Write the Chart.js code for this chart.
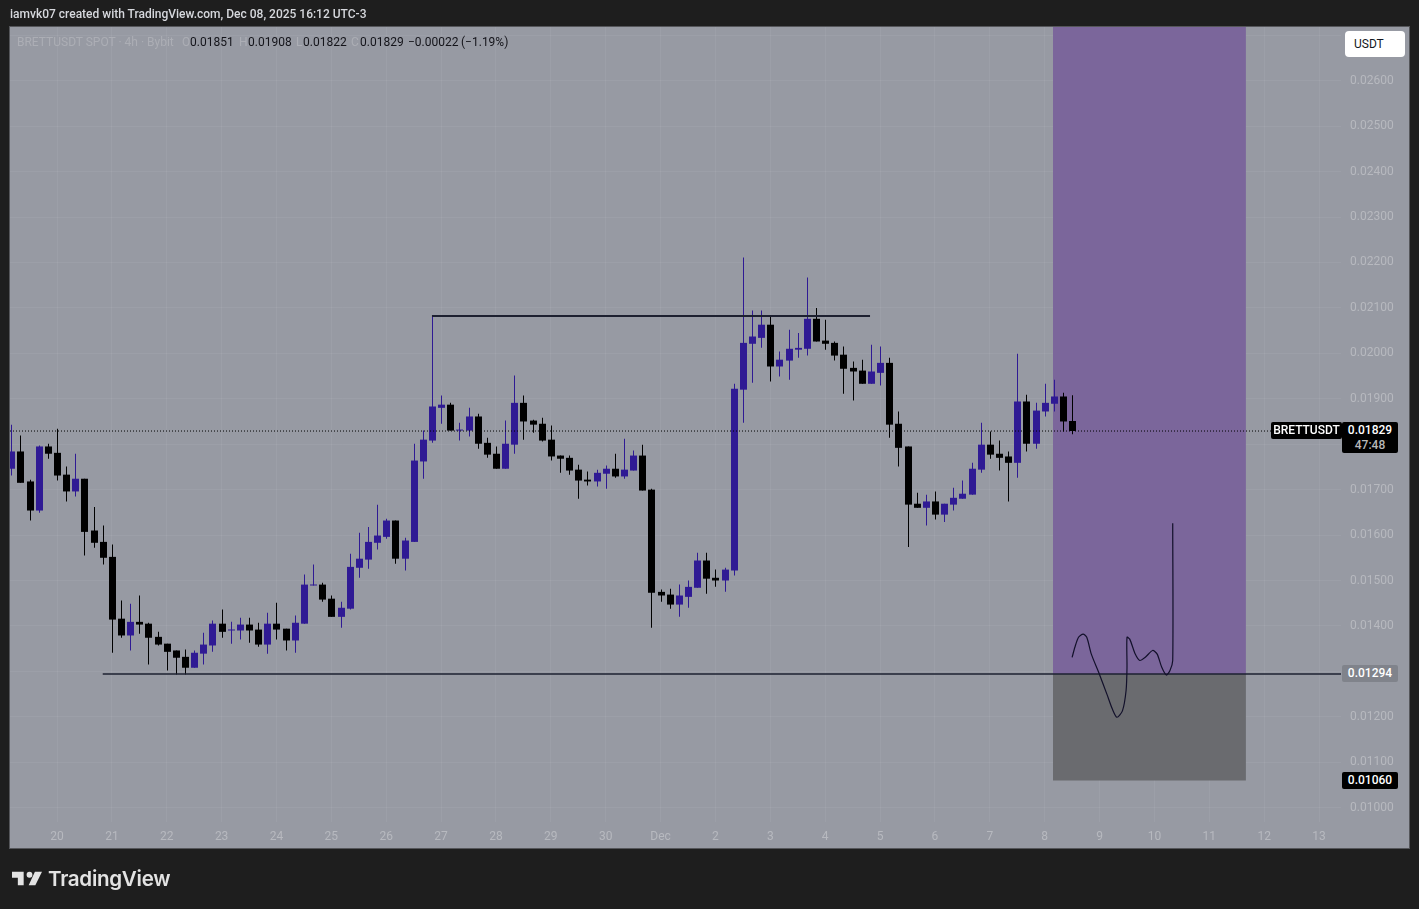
<!DOCTYPE html>
<html>
<head>
<meta charset="utf-8">
<style>
html,body{margin:0;padding:0;width:1419px;height:909px;overflow:hidden;background:#1e1e1e;}
#pane{position:absolute;left:9px;top:26px;width:1401px;height:823px;box-sizing:border-box;background:#979aa3;border:1px solid #55565a;}
canvas{position:absolute;left:0;top:0;}
.t{position:absolute;white-space:nowrap;font-family:Roboto,"Liberation Sans",sans-serif;font-size:12px;line-height:14px;}
.badge{position:absolute;box-sizing:border-box;border-radius:2px;color:#fff;font-family:Roboto,"Liberation Sans",sans-serif;font-size:12px;font-weight:500;text-align:center;line-height:17px;}
#logo{position:absolute;left:12px;top:870px;}
#brand{position:absolute;left:48px;top:866px;font-family:Inter,Roboto,sans-serif;font-size:20.6px;line-height:26px;font-weight:600;color:#e3e3e3;letter-spacing:-0.3px;}
</style>
</head>
<body>
<div id="pane"></div>
<canvas id="c" width="1419" height="909"></canvas>
<div class="t" style="left:10px;top:7px;color:#d6d8dd;font-size:12px;font-weight:500">iamvk07 created with TradingView.com, Dec 08, 2025 16:12 UTC-3</div>
<div class="t" style="left:17px;top:35px;color:#acaeb5">BRETTUSDT SPOT · 4h · Bybit</div>
<div class="t" style="left:182px;top:35px;color:#acaeb5">O</div><div class="t" style="left:190px;top:35px;color:#14141a">0.01851</div>
<div class="t" style="left:239px;top:35px;color:#acaeb5">H</div><div class="t" style="left:248px;top:35px;color:#14141a">0.01908</div>
<div class="t" style="left:296px;top:35px;color:#acaeb5">L</div><div class="t" style="left:303px;top:35px;color:#14141a">0.01822</div>
<div class="t" style="left:351px;top:35px;color:#acaeb5">C</div><div class="t" style="left:360px;top:35px;color:#14141a">0.01829</div>
<div class="t" style="left:408px;top:35px;color:#14141a">−0.00022</div>
<div class="t" style="left:461px;top:35px;color:#14141a">(−1.19%)</div>
<div class="badge" style="left:1345px;top:31px;width:60px;height:26px;background:#fff;color:#131722;font-weight:400;border-radius:4px;line-height:26px;text-align:left;padding-left:9px;">USDT</div>
<div class="badge" style="left:1271px;top:422px;width:71px;height:17px;background:#000;">BRETTUSDT</div>
<div class="badge" style="left:1342px;top:422px;width:56px;height:31px;background:#000;line-height:15px;padding-top:1px;">0.01829<br><span style="color:#b8b8b8;font-weight:500">47:48</span></div>
<div class="badge" style="left:1342px;top:665px;width:56px;height:17px;background:#80838b;">0.01294</div>
<div class="badge" style="left:1342px;top:772px;width:56px;height:17px;background:#000;">0.01060</div>
<svg id="logo" width="30" height="17" viewBox="0 6 36 16"><path fill="#e3e3e3" d="M14 6H0v7h7v9h7V6Zm14 16h-8l7.5-16H36l-8 16Zm-7-9a3.5 3.5 0 1 0 0-7 3.5 3.5 0 0 0 0 7Z"/></svg>
<div id="brand">TradingView</div>
<script src="https://cdn.jsdelivr.net/npm/chart.js@4/dist/chart.umd.min.js"></script>
<script>
const opens=[.01746,.01784,.01718,.01654,.01795,.01781,.01733,.01696,.01724,.01610,.01585,.01552,.01416,.01379,.01409,.01405,.01376,.01361,.01346,.01332,.01308,.01339,.01357,.01405,.01390,.01390,.01403,.01392,.01359,.01405,.01394,.01368,.01405,.01489,.01491,.01460,.01420,.01438,.01528,.01546,.01583,.01596,.01632,.01548,.01585,.01762,.01808,.01880,.01887,.01830,.01830,.01861,.01803,.01779,.01746,.01799,.01891,.01852,.01845,.01810,.01775,.01770,.01744,.01722,.01718,.01735,.01746,.01729,.01742,.01775,.01700,.01475,.01469,.01447,.01464,.01484,.01544,.01506,.01500,.01522,.01920,.02021,.02034,.02063,.01971,.01984,.02008,.02010,.02076,.02028,.02023,.01997,.01968,.01962,.01933,.01957,.01979,.01845,.01795,.01669,.01660,.01674,.01645,.01667,.01680,.01689,.01744,.01799,.01779,.01773,.01759,.01894,.01801,.01872,.01889,.01905,.01851];
const highs=[.01843,.01819,.01722,.01797,.01801,.01834,.01751,.01779,.01724,.01662,.01621,.01579,.01456,.01449,.01467,.01407,.01387,.01361,.01346,.01348,.01346,.01385,.01412,.01436,.01409,.01418,.01418,.01407,.01429,.01451,.01394,.01423,.01513,.01535,.01495,.01467,.01453,.01559,.01605,.01618,.01667,.01636,.01632,.01594,.01801,.01830,.02083,.01907,.01891,.01847,.01880,.01867,.01814,.01795,.01852,.01951,.01907,.01854,.01858,.01841,.01775,.01775,.01755,.01740,.01744,.01753,.01779,.01812,.01786,.01799,.01702,.01480,.01482,.01491,.01500,.01561,.01561,.01524,.01528,.01933,.02211,.02094,.02094,.02081,.02004,.02052,.02045,.02167,.02100,.02074,.02026,.02015,.01982,.01986,.02019,.02015,.01990,.01872,.01795,.01693,.01689,.01696,.01669,.01704,.01720,.01759,.01847,.01828,.01808,.01784,.01999,.01909,.01891,.01933,.01942,.01913,.01908];
const lows=[.01731,.01715,.01632,.01649,.01768,.01720,.01674,.01685,.01555,.01572,.01535,.01341,.01374,.01346,.01383,.01315,.01357,.01302,.01293,.01293,.01308,.01315,.01343,.01374,.01361,.01370,.01363,.01354,.01339,.01370,.01346,.01341,.01405,.01489,.01453,.01420,.01396,.01436,.01506,.01526,.01568,.01592,.01537,.01522,.01585,.01724,.01803,.01845,.01830,.01808,.01817,.01790,.01770,.01746,.01746,.01779,.01810,.01825,.01806,.01764,.01737,.01733,.01680,.01709,.01707,.01702,.01726,.01724,.01742,.01698,.01396,.01453,.01438,.01420,.01440,.01484,.01471,.01486,.01475,.01511,.01847,.01935,.02012,.01938,.01949,.01942,.01990,.01995,.02026,.02008,.01984,.01911,.01896,.01933,.01933,.01929,.01814,.01751,.01574,.01660,.01621,.01634,.01629,.01654,.01680,.01689,.01737,.01768,.01742,.01674,.01726,.01784,.01790,.01861,.01872,.01828,.01822];
const closes=[.01784,.01715,.01654,.01795,.01779,.01731,.01696,.01724,.01607,.01583,.01550,.01414,.01379,.01409,.01403,.01374,.01359,.01343,.01330,.01308,.01341,.01359,.01405,.01387,.01392,.01403,.01390,.01359,.01405,.01392,.01368,.01407,.01491,.01491,.01458,.01420,.01440,.01530,.01548,.01585,.01599,.01632,.01548,.01588,.01764,.01810,.01883,.01887,.01830,.01832,.01861,.01801,.01777,.01746,.01801,.01891,.01850,.01843,.01808,.01773,.01768,.01742,.01720,.01718,.01737,.01746,.01729,.01744,.01775,.01698,.01473,.01467,.01447,.01467,.01486,.01544,.01504,.01500,.01524,.01922,.02023,.02037,.02063,.01971,.01986,.02010,.02012,.02076,.02026,.02021,.01995,.01966,.01960,.01933,.01960,.01979,.01843,.01792,.01667,.01660,.01674,.01645,.01669,.01682,.01691,.01746,.01799,.01777,.01770,.01759,.01894,.01801,.01874,.01891,.01905,.01850,.01829];
const dayLabels=["20","21","22","23","24","25","26","27","28","29","30","Dec","2","3","4","5","6","7","8","9","10","11","12","13"];
const candlesPerDay=6, firstDayIndex=5;
const supportLevel=0.01294, resistanceLevel=0.02082, stopLevel=0.0106, lastClose=0.01829, zoneTop=0.0273, topTickLabel=0.0265;
const zoneFrom=113.9, zoneTo=135, supportFrom=10, resistanceFrom=46, resistanceTo=93.9;
const sketchX=[116,116.3,116.7,117.2,117.6,118.1,118.9,119.8,120.4,120.9,121.5,121.9,122,122,122.3,122.9,123.4,124,124.8,125.3,125.8,126.3,126.7,127,127];
const sketchY=[.01331,.01353,.01375,.01382,.01375,.01338,.01298,.0125,.01217,.01199,.01213,.01258,.01309,.01375,.01371,.01338,.01324,.01331,.01346,.01338,.01309,.01292,.01302,.01324,.01626];

const UP='#2f1a94', DOWN='#000000', LINE='#1d2030';
const xMin=-0.14, xMax=145.4, yMin=0.009685, yMax=0.027182;
const idx=opens.map((_,i)=>i);
const wickData=idx.map(i=>({x:i,y:[lows[i],highs[i]]}));
const bodyData=idx.map(i=>({x:i,y:[Math.min(opens[i],closes[i]),Math.max(opens[i],closes[i])]}));
const colors=idx.map(i=>closes[i]>=opens[i]?UP:DOWN);
const hline=(a,b,v)=>[{x:a,y:v},{x:b,y:v}];
const lineBase={type:'line',pointRadius:0,borderJoinStyle:'round'};

const snapBars={id:'snapBars',afterDatasetsUpdate(chart){
  chart.data.datasets.forEach((d,n)=>{
    if(d.type==='line')return;
    chart.getDatasetMeta(n).data.forEach(el=>{el.x=Math.round(el.x)+0.5;});
  });
}};

new Chart(document.getElementById('c'),{
  type:'bar',
  plugins:[snapBars],
  data:{datasets:[
    {...lineBase,label:'target zone',data:hline(zoneFrom,zoneTo,zoneTop),borderWidth:0,backgroundColor:'#7b669b',fill:{value:supportLevel},order:20},
    {...lineBase,label:'stop zone',data:hline(zoneFrom,zoneTo,stopLevel),borderWidth:0,backgroundColor:'#6a6b6f',fill:{value:supportLevel},order:19},
    {label:'wicks',data:wickData,backgroundColor:colors,barThickness:1,grouped:false,inflateAmount:0,borderSkipped:false,order:10},
    {label:'bodies',data:bodyData,backgroundColor:colors,barThickness:7,grouped:false,inflateAmount:0,minBarLength:1,borderSkipped:false,order:9},
    {...lineBase,label:'support',data:hline(supportFrom,xMax,supportLevel),borderColor:LINE,borderWidth:1.5,order:5},
    {...lineBase,label:'resistance',data:hline(resistanceFrom,resistanceTo,resistanceLevel),borderColor:LINE,borderWidth:2,order:4},
    {...lineBase,label:'last price',data:hline(xMin,xMax,lastClose),borderColor:'#000',borderWidth:1,borderDash:[1,2],order:3},
    {...lineBase,label:'sketch',data:sketchX.map((x,i)=>({x,y:sketchY[i]})),borderColor:'#12102a',borderWidth:1.2,tension:0.25,order:1}
  ]},
  options:{
    responsive:false,animation:false,devicePixelRatio:1,
    layout:{padding:{left:10,top:27,right:10,bottom:61}},
    plugins:{legend:{display:false},title:{display:false},tooltip:{enabled:false}},
    scales:{
      x:{type:'linear',offset:false,min:xMin,max:xMax,
        afterFit(s){s.height=26;},
        afterBuildTicks(s){s.ticks=dayLabels.map((_,k)=>({value:firstDayIndex+k*candlesPerDay}));},
        grid:{color:'rgba(255,255,255,0.055)',drawTicks:false,offset:false},border:{display:false},
        ticks:{autoSkip:false,maxRotation:0,padding:8,color:'#b7b9bf',font:{family:'Roboto',size:12},
          callback(v){return dayLabels[(v-firstDayIndex)/candlesPerDay];}}},
      y:{type:'linear',position:'right',min:yMin,max:yMax,
        afterFit(s){s.width=68;},
        grid:{color:'rgba(255,255,255,0.055)',drawTicks:false},border:{display:false},
        ticks:{stepSize:0.001,includeBounds:false,padding:9,color:'#b7b9bf',font:{family:'Roboto',size:12},
          callback(v){return v>topTickLabel?'':v.toFixed(5);}}}
    }
  }
});
</script>
</body>
</html>
